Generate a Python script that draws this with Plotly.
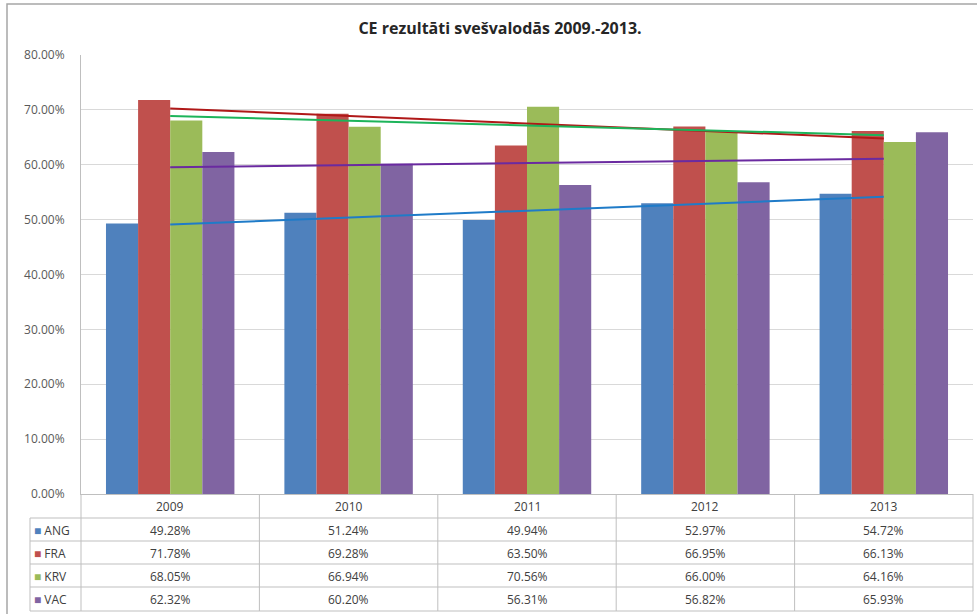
import numpy as np
import plotly.graph_objects as go

years = ["2009", "2010", "2011", "2012", "2013"]
series_names = ["ANG", "FRA", "KRV", "VAC"]
ang = [49.28, 51.24, 49.94, 52.97, 54.72]
fra = [71.78, 69.28, 63.50, 66.95, 66.13]
krv = [68.05, 66.94, 70.56, 66.00, 64.16]
vac = [62.32, 60.20, 56.31, 56.82, 65.93]
y_ticks = [0, 10, 20, 30, 40, 50, 60, 70, 80]

values = [ang, fra, krv, vac]
bar_colors = ["#4F81BD", "#C0504D", "#9BBB59", "#8064A2"]
trend_colors = ["#1F7BC8", "#B01818", "#1DB45A", "#6A2AA0"]

FONT = "'Open Sans', Lato, sans-serif"
W_PX, H_PX = 977, 614
L, R, T, B = 81, 973, 55, 494
PW, PH = R - L, B - T


def px(xp):
    return (xp - L) / PW


def py(yp):
    return (B - yp) / PH


fig = go.Figure()

for name, vals, col in zip(series_names, values, bar_colors):
    fig.add_trace(go.Bar(
        x=years, y=[v / 100 for v in vals], name=name,
        marker=dict(color=col, line=dict(width=0)),
        showlegend=False, hoverinfo="x+y+name",
    ))

# linear trend lines (least squares, as in the original spreadsheet chart)
xs = np.arange(len(years))
for name, vals, col in zip(series_names, values, trend_colors):
    k, b = np.polyfit(xs, np.array(vals) / 100, 1)
    fig.add_trace(go.Scatter(
        x=years, y=k * xs + b, mode="lines",
        line=dict(color=col, width=2), showlegend=False,
        name=name + " trend", hoverinfo="skip",
    ))

shapes = []
line_c = "#BFBFBF"
# chart outer border
shapes.append(dict(type="rect", xref="paper", yref="paper",
                   x0=px(7), x1=px(995), y0=py(630), y1=py(4),
                   line=dict(color="#A6A6A6", width=1.5)))
# table horizontal lines
for yl in [518, 541, 564, 587, 611]:
    shapes.append(dict(type="line", xref="paper", yref="paper",
                       x0=px(30), x1=1, y0=py(yl), y1=py(yl),
                       line=dict(color=line_c, width=1)))
# table vertical lines (category boundaries)
n = len(years)
for i in range(n + 1):
    shapes.append(dict(type="line", xref="paper", yref="paper",
                       x0=i / n, x1=i / n, y0=0, y1=py(611),
                       line=dict(color=line_c, width=1)))
# legend column left border
shapes.append(dict(type="line", xref="paper", yref="paper",
                   x0=px(30), x1=px(30), y0=py(518), y1=py(611),
                   line=dict(color=line_c, width=1)))

annotations = []
# header row: years
for i, yr in enumerate(years):
    annotations.append(dict(x=i, xref="x", y=py(506), yref="paper",
                            text=yr, showarrow=False,
                            font=dict(family=FONT, size=12, color="#404040"),
                            xanchor="center", yanchor="middle"))
row_centers = [530, 553, 576, 599]
for name, vals, col, yc in zip(series_names, values, bar_colors, row_centers):
    annotations.append(dict(x=px(32), xref="paper", y=py(yc), yref="paper",
                            text=f'<span style="color:{col}">■</span> {name}',
                            showarrow=False, xanchor="left", yanchor="middle",
                            font=dict(family=FONT, size=12, color="#404040")))
    for i, v in enumerate(vals):
        annotations.append(dict(x=i, xref="x", y=py(yc), yref="paper",
                                text=f"{v:.2f}%", showarrow=False,
                                xanchor="center", yanchor="middle",
                                font=dict(family=FONT, size=12, color="#404040")))

fig.update_layout(
    width=W_PX, height=H_PX,
    margin=dict(l=L, r=W_PX - R, t=T, b=H_PX - B, pad=0),
    paper_bgcolor="white", plot_bgcolor="white",
    barmode="group", bargap=0.28, bargroupgap=0,
    title=dict(text="<b>CE rezultāti svešvalodās 2009.-2013.</b>",
               x=500 / W_PX, xanchor="center", y=1 - 28 / H_PX, yanchor="middle",
               font=dict(family=FONT, size=16, color="#262626")),
    xaxis=dict(type="category", showticklabels=False, showgrid=False, showline=True,
               linecolor="#BFBFBF", linewidth=1, ticks="", range=[-0.5, 4.5]),
    yaxis=dict(range=[0, 0.8], tickvals=[t / 100 for t in y_ticks],
               tickformat=".2%", showgrid=True, gridcolor="#D9D9D9", gridwidth=1,
               showline=True, linecolor="#BFBFBF", linewidth=1,
               zeroline=False, ticks="", ticklabelstandoff=13,
               tickfont=dict(family=FONT, size=12, color="#595959")),
    shapes=shapes, annotations=annotations,
    font=dict(family=FONT),
)

fig.write_html("out.html", config={"displayModeBar": False},
               post_script="document.body.style.margin='0';document.body.style.overflow='hidden';")
